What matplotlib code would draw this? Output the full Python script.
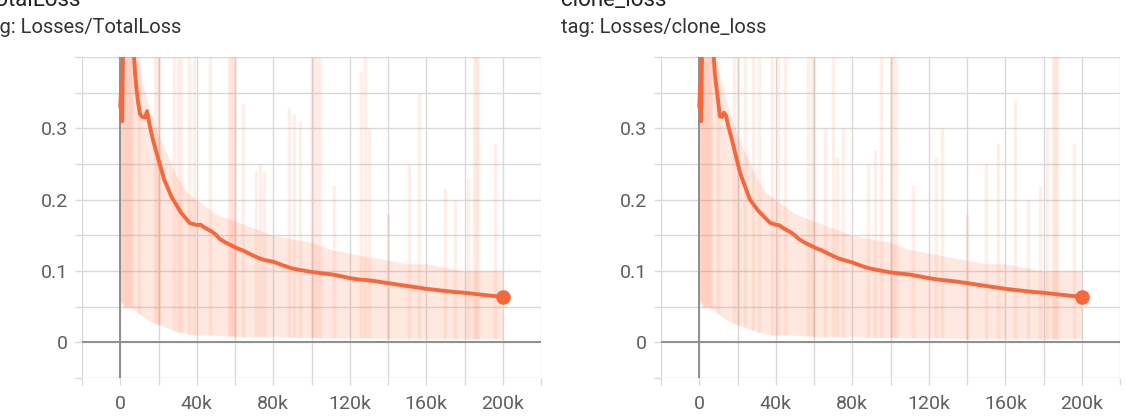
import matplotlib
matplotlib.use("Agg")
import matplotlib.pyplot as plt
import numpy as np

plt.rcParams['font.family'] = ['Roboto', 'DejaVu Sans']

# ---------------- data (steps in thousands) ----------------
titles = ["TotalLoss", "clone_loss"]
tags = ["tag: Losses/TotalLoss", "tag: Losses/clone_loss"]

smooth_k_total = [0, 0.5, 1.0, 1.5, 2.5, 4, 5, 6, 7, 7.7, 8.5, 9.4, 10.3, 11.5, 13, 14, 15.5,
                  17, 20, 23, 27, 32, 36.4, 40, 42, 44, 46, 48, 50, 52, 55, 58, 61, 64, 67,
                  70, 73, 76, 80, 85, 90, 95, 100, 105, 110, 115, 120, 125, 130, 135, 140,
                  145, 150, 155, 160, 165, 170, 175, 180, 185, 190, 195, 200]
smooth_total = [0.33, 0.36, 0.31, 0.42, 0.45, 0.44, 0.43, 0.43, 0.41, 0.38, 0.355, 0.335,
                0.32, 0.316, 0.315, 0.324, 0.303, 0.285, 0.256, 0.228, 0.203, 0.181, 0.167,
                0.1645, 0.165, 0.161, 0.158, 0.155, 0.151, 0.145, 0.140, 0.136, 0.132, 0.129,
                0.125, 0.121, 0.1175, 0.115, 0.113, 0.108, 0.1034, 0.101, 0.0987, 0.097,
                0.0955, 0.093, 0.090, 0.088, 0.087, 0.085, 0.083, 0.081, 0.079, 0.077, 0.075,
                0.0735, 0.072, 0.0705, 0.0695, 0.068, 0.0665, 0.065, 0.064]

smooth_k_clone = [0, 0.5, 1.0, 1.5, 2.5, 4, 5, 6, 7.3, 8.2, 9.1, 10.0, 10.8, 12, 12.9, 14,
                  15.2, 17, 21.3, 24, 26.5, 31, 37, 40.5, 42, 44, 46, 48, 50, 52, 55, 58, 61,
                  64, 67, 70, 73, 76, 80, 85, 90, 95, 100, 105, 110, 115, 120, 125, 130, 135,
                  140, 145, 150, 155, 160, 165, 170, 175, 180, 185, 190, 195, 200]
smooth_clone = [0.33, 0.36, 0.31, 0.42, 0.45, 0.44, 0.43, 0.43, 0.41, 0.375, 0.355, 0.335,
                0.317, 0.316, 0.322, 0.318, 0.303, 0.285, 0.238, 0.218, 0.200, 0.184, 0.1675,
                0.1646, 0.164, 0.160, 0.157, 0.154, 0.150, 0.145, 0.140, 0.136, 0.132, 0.129,
                0.125, 0.121, 0.1175, 0.115, 0.112, 0.107, 0.103, 0.1005, 0.098, 0.0965,
                0.095, 0.0925, 0.090, 0.088, 0.0865, 0.085, 0.083, 0.081, 0.079, 0.077, 0.075,
                0.0735, 0.072, 0.0705, 0.0695, 0.068, 0.0665, 0.065, 0.064]

raw_k = [0, 2, 5, 8, 10, 15, 20, 25, 30, 35, 40, 50, 60, 70, 80, 90, 100, 110, 120, 130,
         140, 150, 160, 170, 180, 190, 200]
raw_low = [0.06, 0.05, 0.05, 0.045, 0.04, 0.03, 0.025, 0.02, 0.015, 0.012, 0.01, 0.01,
           0.008, 0.008, 0.008, 0.007, 0.007, 0.006, 0.006, 0.006, 0.005, 0.005, 0.005,
           0.005, 0.005, 0.005, 0.005]
raw_high = [0.40, 0.45, 0.45, 0.42, 0.38, 0.33, 0.29, 0.26, 0.23, 0.21, 0.20, 0.18, 0.17,
            0.16, 0.15, 0.145, 0.14, 0.13, 0.125, 0.12, 0.115, 0.11, 0.11, 0.105, 0.10,
            0.10, 0.10]

spike_k_total = [1, 2, 3, 4, 5, 6, 10, 18, 19.5, 20.5, 28, 30, 32, 36, 38.5, 47, 57, 58,
                 59, 60, 64, 71, 73, 75, 88, 91, 94, 100, 101.5, 103, 104.5, 112, 126,
                 128, 130, 140, 151, 156, 170, 175, 182, 185, 186, 187, 196]
spike_v_total = [0.45, 0.45, 0.45, 0.45, 0.45, 0.45, 0.45, 0.45, 0.40, 0.45, 0.45, 0.42,
                 0.45, 0.45, 0.40, 0.45, 0.45, 0.45, 0.45, 0.45, 0.336, 0.24, 0.25, 0.24,
                 0.33, 0.32, 0.31, 0.45, 0.45, 0.45, 0.45, 0.22, 0.38, 0.45, 0.30, 0.18,
                 0.25, 0.35, 0.215, 0.20, 0.23, 0.45, 0.45, 0.45, 0.28]

spike_k_clone = [1, 2, 3, 4, 5, 6, 10, 18, 20.5, 24, 28, 31, 38, 41, 45, 57, 59, 60, 66,
                 70, 72, 75, 88, 92, 95, 100, 101.5, 103, 112, 124, 127, 140, 150, 156, 165,
                 172, 178, 182, 185, 186, 187, 196]
spike_v_clone = [0.45, 0.45, 0.45, 0.45, 0.45, 0.45, 0.45, 0.45, 0.42, 0.45, 0.45, 0.40,
                 0.45, 0.45, 0.42, 0.45, 0.45, 0.40, 0.30, 0.45, 0.26, 0.30, 0.25, 0.27,
                 0.45, 0.45, 0.45, 0.40, 0.22, 0.26, 0.30, 0.18, 0.25, 0.28, 0.34, 0.20,
                 0.22, 0.30, 0.45, 0.45, 0.45, 0.28]

xtick_labels = ["0", "40k", "80k", "120k", "160k", "200k"]
ytick_labels = ["0", "0.1", "0.2", "0.3"]

# ---------------- figure ----------------
W, H = 1126, 420
fig = plt.figure(figsize=(W / 100, H / 100), dpi=100)

line_col = '#f4683c'
raw_col = '#ff7043'
grid_col = '#d9d9d9'
zero_col = '#8f8f8f'

panels = [
    (82, smooth_k_total, smooth_total, spike_k_total, spike_v_total, -18),
    (661, smooth_k_clone, smooth_clone, spike_k_clone, spike_v_clone, 561),
]

for i, (left_px, sk, sv, pk, pv, text_px) in enumerate(panels):
    ax = fig.add_axes([left_px / W, 1 - 378 / H, 459 / W, 321 / H])
    ax.set_xlim(-20000, 220000)
    ax.set_ylim(-0.05, 0.4)

    rk = np.array(raw_k) * 1000
    ax.fill_between(rk, raw_low, raw_high, color=raw_col, alpha=0.16, lw=0, zorder=1)
    spike_bottom = np.interp(pk, raw_k, raw_low)
    ax.vlines(np.array(pk) * 1000, spike_bottom, pv, color=raw_col, alpha=0.11, lw=2.5,
              zorder=1)

    ax.plot(np.array(sk) * 1000, sv, color=line_col, lw=2.8, zorder=4,
            solid_joinstyle='round', solid_capstyle='round')
    ax.plot([sk[-1] * 1000], [sv[-1]], 'o', color=line_col, ms=9.5, zorder=5)

    # grid
    xt = np.arange(-20000, 220001, 20000)
    yt = np.round(np.arange(-0.05, 0.4001, 0.05), 3)
    ax.set_xticks(xt)
    ax.set_yticks(yt)
    xl = []
    for v in xt:
        if v >= 0 and v % 40000 == 0:
            xl.append(xtick_labels[int(v // 40000)])
        else:
            xl.append("")
    yl = []
    for v in yt:
        idx = int(round(v / 0.1)) if v >= 0 else -1
        if v >= 0 and abs(v - round(v, 1)) < 1e-6 and idx < len(ytick_labels):
            yl.append(ytick_labels[idx])
        else:
            yl.append("")
    ax.set_xticklabels(xl)
    ax.set_yticklabels(yl)
    ax.grid(True, color=grid_col, lw=1.0, zorder=0)
    ax.set_axisbelow(True)
    ax.axhline(0, color=zero_col, lw=1.4, zorder=2)
    ax.axvline(0, color=zero_col, lw=1.4, zorder=2)
    ax.tick_params(axis='both', length=5, width=1, color=grid_col,
                   labelcolor='#5f5f5f', labelsize=14)
    ax.tick_params(axis='x', pad=7)
    ax.tick_params(axis='y', pad=5)
    for s in ax.spines.values():
        s.set_visible(False)

    fig.text(text_px / W, 1 - 6 / H, titles[i], fontsize=16, color='#212121',
             ha='left', va='baseline')
    fig.text(text_px / W, 1 - 33 / H, tags[i], fontsize=14.5, color='#333333',
             ha='left', va='baseline')

fig.savefig("out.png", dpi=100)
